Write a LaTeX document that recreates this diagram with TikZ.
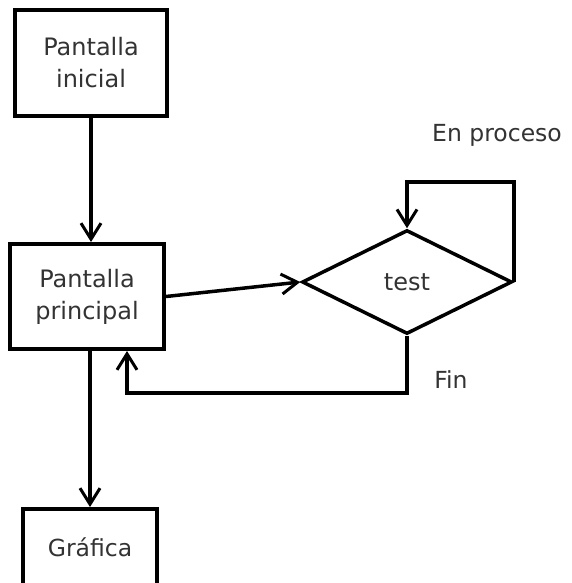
\documentclass[tikz,border=0pt]{standalone}
\usepackage{fontspec}
\setmainfont{DejaVu Sans}
\usetikzlibrary{shapes.geometric,arrows.meta}
\definecolor{txt}{rgb}{0.2,0.2,0.2}
\tikzset{
  box/.style={draw=black, line width=4pt, fill=white, inner sep=0pt, text=txt, align=center, font=\fontsize{24}{32}\selectfont},
  dec/.style={draw=black, diamond, line width=3.5pt, inner sep=0pt, text=txt, font=\fontsize{24}{32}\selectfont},
  lbl/.style={text=txt, inner sep=0pt, font=\fontsize{23.5}{30}\selectfont},
  arr/.style={line width=3.5pt, -{Straight Barb[length=16pt,width=20pt,line width=3pt]}}
}
\begin{document}
\begin{tikzpicture}[x=1pt,y=-1pt]
\useasboundingbox (0,0) rectangle (571,583);
\clip (0,0) rectangle (571,583);
\fill[white] (0,0) rectangle (571,583);
\node[box, minimum width=152pt, minimum height=106pt] (b1) at (91,63) {Pantalla\\inicial};
\node[box, minimum width=154pt, minimum height=105pt] (b2) at (87,296.5) {Pantalla\\principal};
\node[box, minimum width=134pt, minimum height=110pt, text height=0pt] (b3) at (90,564) {};
\node[lbl] (b3t) at (90,547) {Gráfica};
\node[dec, minimum width=210pt, minimum height=104pt] (d) at (407,282) {test};
\node[lbl] (ep) at (497,135) {En proceso};
\node[lbl] (fin) at (451,380) {Fin};
\coordinate (looptop) at (460,182);
\coordinate (finy) at (300,393);
\coordinate (ret) at ([xshift=40pt]b2.south);
\draw[arr] ([yshift=4pt]b1.south) -- (b1.south |- b2.north);
\draw[arr] (b2.east) -- (d.west);
\draw[arr] (d.east) -- (d.east |- looptop) -| (d.north);
\draw[arr] (d.south) -- (d.south |- finy) -| (ret);
\draw[arr] (b2.south -| b3.north) -- (b3.north);
\end{tikzpicture}
\end{document}
